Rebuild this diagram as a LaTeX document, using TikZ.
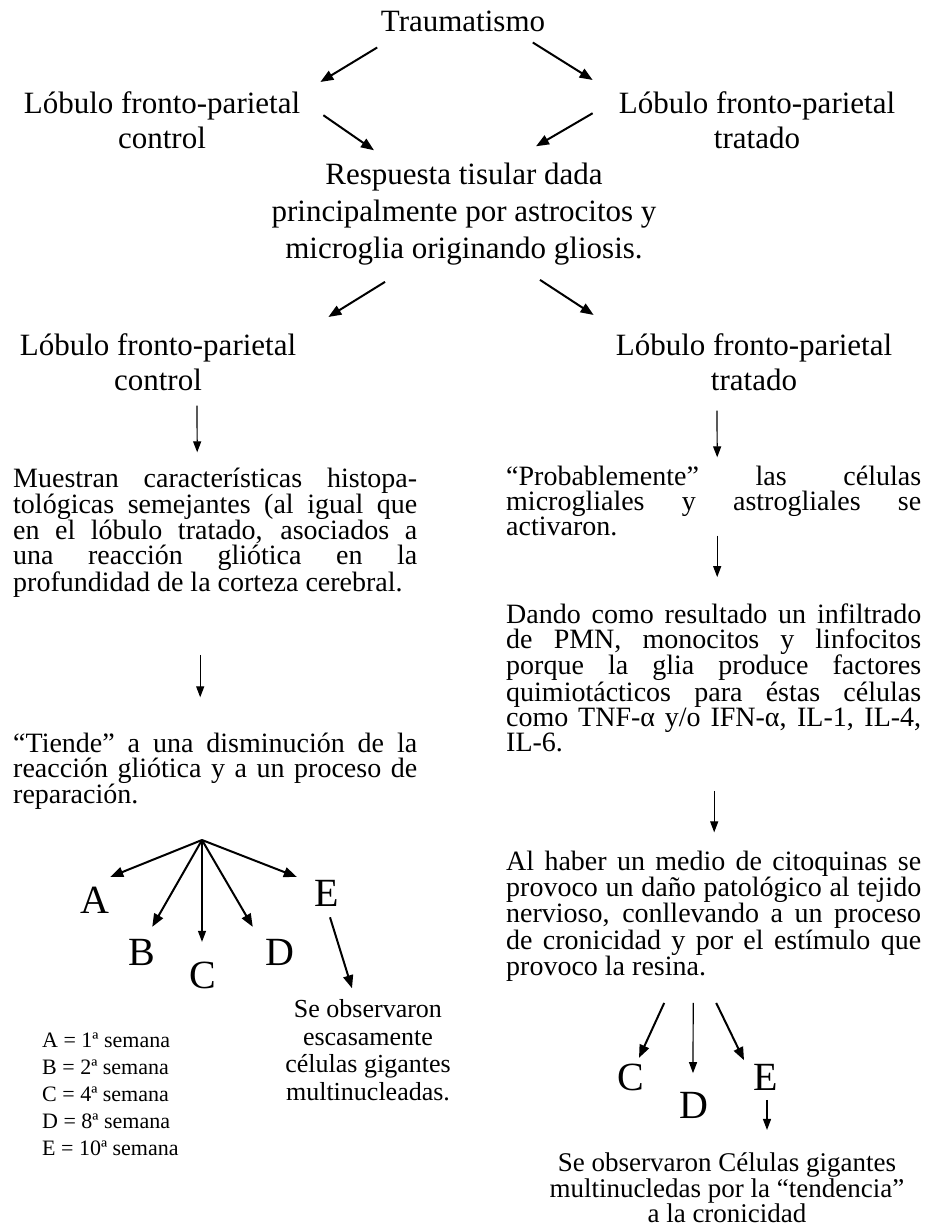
\documentclass[tikz,border=0pt]{standalone}
\usepackage{fontspec}
\setmainfont{Liberation Serif}
\usetikzlibrary{arrows.meta}

\tikzset{
  headtext/.style={font=\fontsize{31}{35}\selectfont, align=center, inner sep=0pt, anchor=base},
  bodytext/.style={font=\fontsize{28}{25}\selectfont, align=justify, inner sep=0pt, anchor=base west},
  weektext/.style={font=\fontsize{22}{27}\selectfont, align=left, inner sep=0pt, anchor=base west},
  notetext/.style={font=\fontsize{26}{27.5}\selectfont, align=center, inner sep=0pt, anchor=base},
  letter/.style={font=\fontsize{40}{40}\selectfont, inner sep=0pt},
  bigarrow/.style={-{Triangle[length=13pt, width=10pt]}, line width=2pt},
  downarrow/.style={-{Triangle[length=11pt, width=8pt]}, line width=1.2pt}
}

\begin{document}
\begin{tikzpicture}[x=1pt, y=-1pt]
  \useasboundingbox (0,0) rectangle (928,1228);

  % Trauma and first split (multi-line nodes sit on their last line)
  \node[headtext] (trauma) at (463,32) {Traumatismo};
  \node[headtext] (lobL1) at (162,148) {Lóbulo fronto-parietal\\control};
  \node[headtext] (lobR1) at (757,148) {Lóbulo fronto-parietal\\tratado};
  \node[headtext, font=\fontsize{31}{37}\selectfont] (resp) at (464,258) {Respuesta tisular dada\\principalmente por astrocitos y\\microglia originando gliosis.};

  \draw[bigarrow] ([shift={(-3.5,15)}]trauma.south west) -- ([shift={(20,-9)}]lobL1.north east);
  \draw[bigarrow] ([shift={(-12.5,10)}]trauma.south east) -- ([shift={(-26,-11)}]lobR1.north west);
  \draw[bigarrow] ([shift={(23,-4.5)}]lobL1.east) -- ([shift={(-90,-12)}]resp.north);
  \draw[bigarrow] ([shift={(-26,-6.5)}]lobR1.west) -- ([shift={(72,-16)}]resp.north);

  % Second split
  \node[headtext] (lobL2) at (158,390) {Lóbulo fronto-parietal\\control};
  \node[headtext] (lobR2) at (754,390) {Lóbulo fronto-parietal\\tratado};

  \draw[bigarrow] ([shift={(-79,17)}]resp.south) -- ([shift={(32,-16)}]lobL2.north east);
  \draw[bigarrow] ([shift={(76,15)}]resp.south) -- ([shift={(-22,-18)}]lobR2.north west);

  % Control side
  \node[bodytext, text width=404pt] (muestra) at (13,487) {Muestran características histopa-\linebreak tológicas semejantes (al igual que\linebreak en el lóbulo tratado, asociados a\linebreak una reacción gliótica en la\linebreak profundidad de la corteza cerebral.};
  \node[bodytext, text width=404pt] (tiende) at (13,752) {“Tiende” a una disminución de la\linebreak reacción gliótica y a un proceso de\linebreak reparación.};

  \draw[downarrow] ([shift={(39,15)}]lobL2.south) -- ([shift={(-18,-15)}]muestra.north);
  \draw[downarrow] ([shift={(-15,57)}]muestra.south) -- ([shift={(-15,-35)}]tiende.north);

  \coordinate (fan) at (202,840);
  \node[letter] (aL) at (95,900) {A};
  \node[letter] (bL) at (142,952) {B};
  \node[letter] (cL) at (203,975) {C};
  \node[letter] (dL) at (280,952) {D};
  \node[letter] (eL) at (327,893) {E};

  \draw[bigarrow] (fan) -- ([shift={(0.6,-9.7)}]aL.north east);
  \draw[bigarrow] (fan) -- ([shift={(-3.3,-11.8)}]bL.north east);
  \draw[downarrow] (fan) -- ([shift={(-1,-19.5)}]cL.north);
  \draw[bigarrow] (fan) -- ([shift={(-12.6,-11.8)}]dL.north west);
  \draw[bigarrow] (fan) -- ([shift={(-17.8,-2.8)}]eL.north west);

  \node[notetext] (obs) at (368,1100) {Se observaron\\escasamente\\células gigantes\\multinucleadas.};
  \draw[bigarrow] ([shift={(3,11)}]eL.south) -- ([shift={(-16,-11)}]obs.north);

  \node[weektext] (weeks) at (42,1155) {A = 1ª semana\\B = 2ª semana\\C = 4ª semana\\D = 8ª semana\\E = 10ª semana};

  % Treated side
  \node[bodytext, text width=415pt] (prob) at (506,485) {“Probablemente” las células\linebreak microgliales y astrogliales se\linebreak activaron.};
  \node[bodytext, text width=415pt] (dando) at (506,623) {Dando como resultado un infiltrado\linebreak de PMN, monocitos y linfocitos\linebreak porque la glia produce factores\linebreak quimiotácticos para éstas células\linebreak como TNF-α y/o IFN-α, IL-1, IL-4,\linebreak IL-6.};
  \node[bodytext, text width=415pt] (haber) at (506,870) {Al haber un medio de citoquinas se\linebreak provoco un daño patológico al tejido\linebreak nervioso, conllevando a un proceso\linebreak de cronicidad y por el estímulo que\linebreak provoco la resina.};

  \draw[downarrow] ([shift={(-37,20)}]lobR2.south) -- ([shift={(3.5,-8)}]prob.north);
  \draw[downarrow] ([shift={(3.5,0)}]prob.south) -- ([shift={(3.5,-26)}]dando.north);
  \draw[downarrow] ([shift={(0.5,39)}]dando.south) -- ([shift={(0.5,-18)}]haber.north);

  \node[letter] (cR) at (631,1077) {C};
  \node[letter] (dR) at (694,1105) {D};
  \node[letter] (eR) at (766,1077) {E};

  \draw[bigarrow] ([shift={(-49.5,21)}]haber.south) -- ([shift={(8,-5.5)}]cR.north);
  \draw[downarrow] ([shift={(-20.5,21)}]haber.south) -- ([shift={(-1,-18.5)}]dR.north);
  \draw[bigarrow] ([shift={(2.5,21)}]haber.south) -- ([shift={(-22,-3.5)}]eR.north);

  \node[notetext, font=\fontsize{27}{24.5}\selectfont] (fin) at (727,1222) {Se observaron Células gigantes\\multinucledas por la “tendencia”\\a la cronicidad};
  \draw[downarrow] ([shift={(1,9.5)}]eR.south) -- ([shift={(40,-23)}]fin.north);
\end{tikzpicture}
\end{document}
